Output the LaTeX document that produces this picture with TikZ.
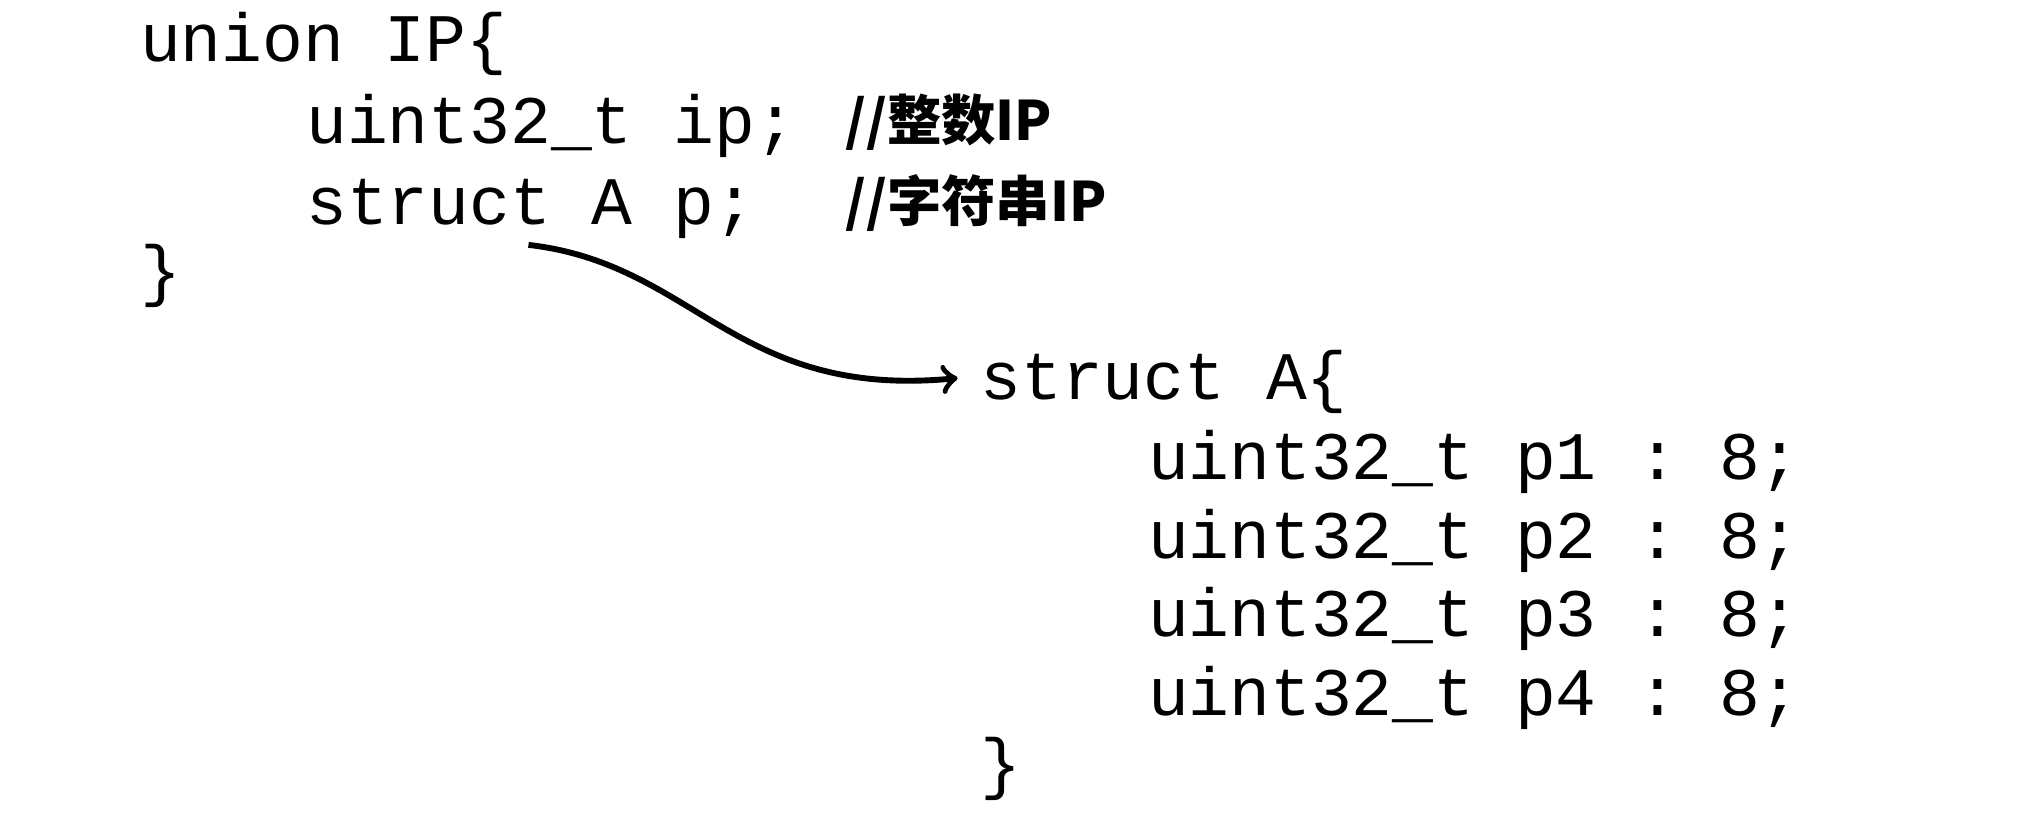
\documentclass[tikz,border=0pt]{standalone}
\usepackage{fontspec}
\setmonofont{Liberation Mono}
\newfontfamily\cjk{Noto Sans CJK SC}
\begin{document}
\begin{tikzpicture}[x=0.01cm,y=-0.01cm,
  code/.style={anchor=base west,inner sep=0pt,font=\ttfamily\fontsize{15}{18}\selectfont},
  cmt/.style={anchor=base west,inner sep=0pt,font=\cjk\bfseries\fontsize{12}{14}\selectfont}]
\useasboundingbox (0,0) rectangle (1568,640);
\node[code] (l1) at (108,48) {union IP\{};
\node[code] (l2) at (237,111) {uint32\_t ip;};
\node[cmt] (c2) at (655,109) {//整数IP};
\node[code] (l3) at (237,174) {struct A p;};
\node[cmt] (c3) at (655,172) {//字符串IP};
\node[code] (l4) at (108,228) {\}};
\node[code] (s1) at (760,310) {struct A\{};
\node[code] (s2) at (890,372) {uint32\_t p1 : 8;};
\node[code] (s3) at (890,433) {uint32\_t p2 : 8;};
\node[code] (s4) at (890,494) {uint32\_t p3 : 8;};
\node[code] (s5) at (890,555) {uint32\_t p4 : 8;};
\node[code] (s6) at (760,610) {\}};
\coordinate (from) at (410,190);
\draw[line width=1.3pt,->] (from) .. controls (540,205) and (570,310) .. ([xshift=-0.17cm,yshift=0.03cm]s1.west);
\end{tikzpicture}
\end{document}
